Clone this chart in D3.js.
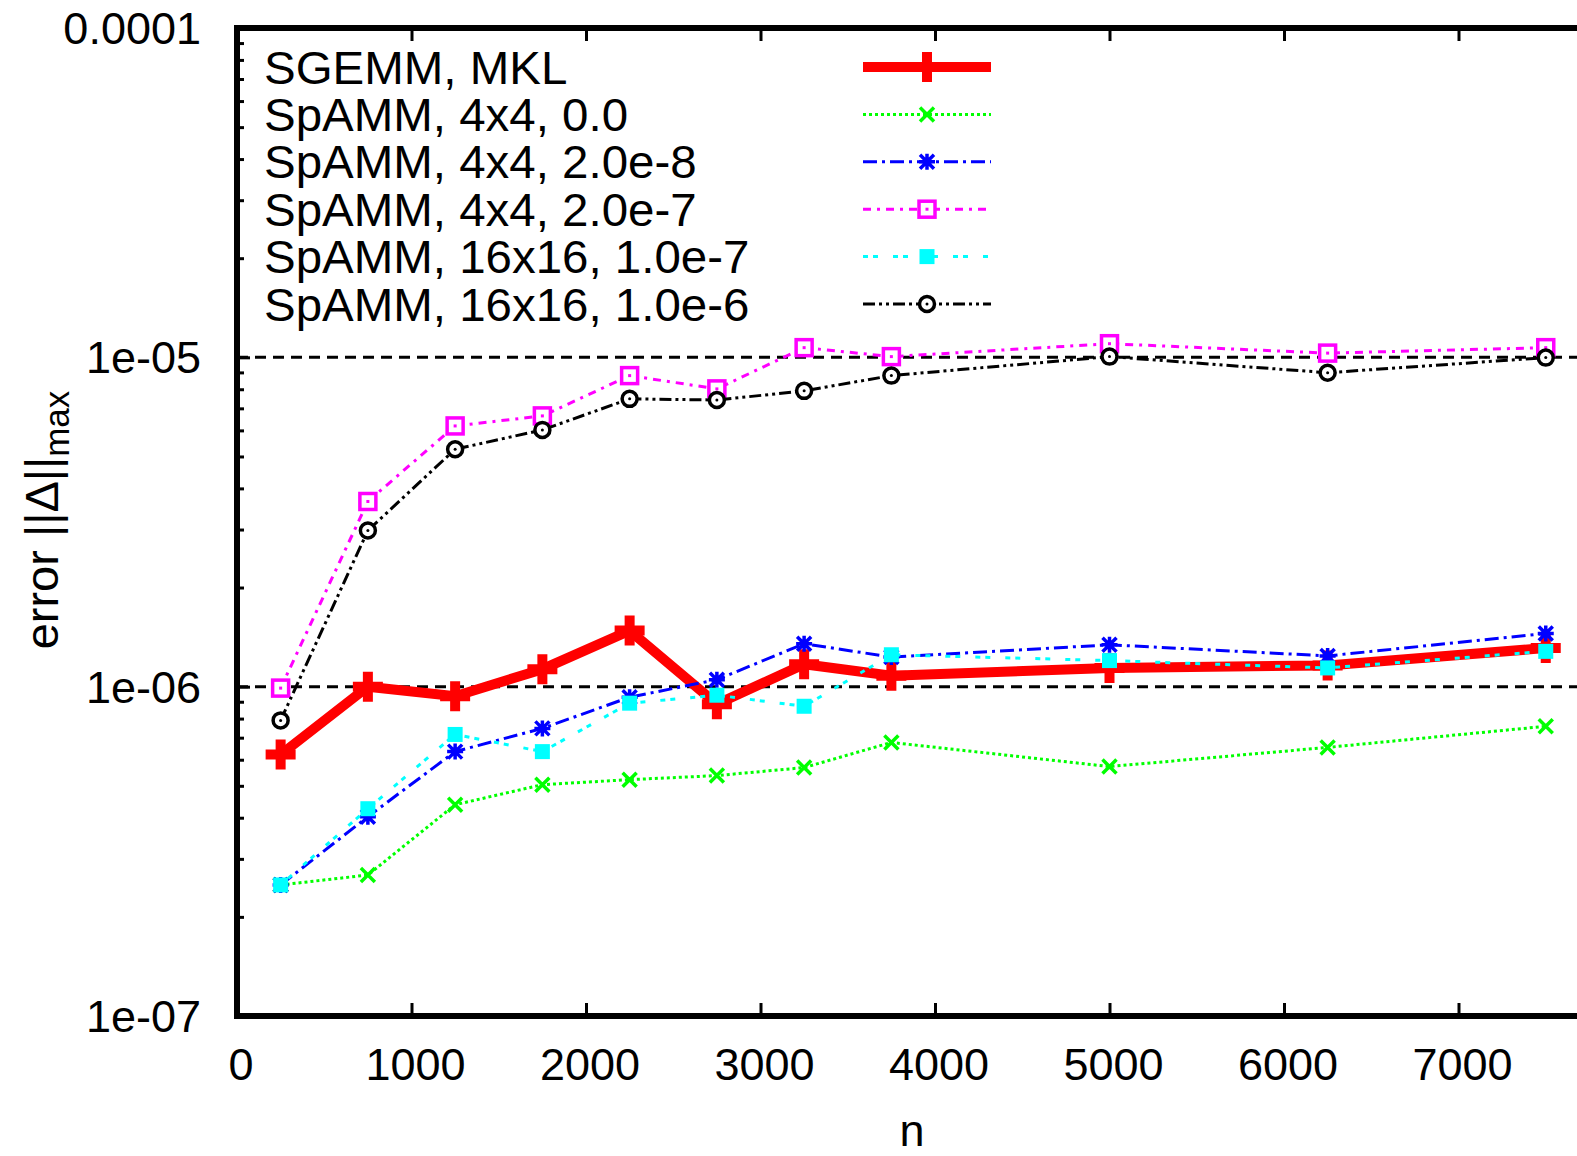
<!DOCTYPE html>
<html><head><meta charset="utf-8">
<script src="https://cdn.jsdelivr.net/npm/d3@7"></script>
<style>
html,body{margin:0;padding:0;background:#fff;overflow:hidden}
text{font-family:"Liberation Sans",Arial,Helvetica,sans-serif;fill:#000}
</style></head>
<body>
<script>
const nValues = [250, 750, 1250, 1750, 2250, 2750, 3250, 3750, 5000, 6250, 7500];
const seriesNames = ["SGEMM, MKL","SpAMM, 4x4, 0.0","SpAMM, 4x4, 2.0e-8","SpAMM, 4x4, 2.0e-7","SpAMM, 16x16, 1.0e-7","SpAMM, 16x16, 1.0e-6"];
const sgemm   = [6.22e-7, 1.00e-6, 9.35e-7, 1.13e-6, 1.48e-6, 8.85e-7, 1.17e-6, 1.08e-6, 1.14e-6, 1.16e-6, 1.31e-6];
const spamm0  = [2.50e-7, 2.68e-7, 4.38e-7, 5.04e-7, 5.22e-7, 5.37e-7, 5.68e-7, 6.77e-7, 5.72e-7, 6.54e-7, 7.58e-7];
const spamm2e8= [2.50e-7, 4.03e-7, 6.35e-7, 7.47e-7, 9.29e-7, 1.05e-6, 1.35e-6, 1.23e-6, 1.34e-6, 1.24e-6, 1.45e-6];
const spamm2e7= [9.9e-7, 3.65e-6, 6.19e-6, 6.64e-6, 8.80e-6, 8.02e-6, 1.07e-5, 1.005e-5, 1.10e-5, 1.03e-5, 1.07e-5];
const spamm16_1e7 = [2.50e-7, 4.26e-7, 7.16e-7, 6.35e-7, 8.91e-7, 9.42e-7, 8.72e-7, 1.25e-6, 1.20e-6, 1.14e-6, 1.28e-6];
const spamm16_1e6 = [7.9e-7, 2.98e-6, 5.26e-6, 6.02e-6, 7.48e-6, 7.42e-6, 7.91e-6, 8.80e-6, 1.005e-5, 8.98e-6, 9.98e-6];
const xTicks = [0,1000,2000,3000,4000,5000,6000,7000];
const yTicks = [1e-4,1e-5,1e-6,1e-7];
const yTickLabels = ["0.0001","1e-05","1e-06","1e-07"];
const refLines = [1e-5, 1e-6];

const W=1577,H=1156;
const svg=d3.select("body").append("svg").attr("width",W).attr("height",H);
const mLeft=237, mTop=28, mBottom=1016;
const x=d3.scaleLinear().domain([0,8000]).range([mLeft,mLeft+8000*0.1745]);
const y=d3.scaleLog().domain([1e-7,1e-4]).range([mBottom,mTop]);
const mRight=x(8000);

svg.append("defs").append("clipPath").attr("id","clip").append("rect")
  .attr("x",mLeft).attr("y",mTop).attr("width",mRight-mLeft).attr("height",mBottom-mTop);

// reference dashed lines
svg.append("g").selectAll("line").data(refLines).join("line")
  .attr("x1",mLeft).attr("x2",mRight).attr("y1",d=>y(d)).attr("y2",d=>y(d))
  .attr("stroke","#000").attr("stroke-width",3).attr("stroke-dasharray","11,7");

// ticks
const minor=[];
for(let e=-7;e<-4;e++) for(let m=2;m<=9;m++) minor.push(m*Math.pow(10,e));
function styleAxis(g){ g.select(".domain").remove(); g.selectAll("line").attr("stroke","#000").attr("stroke-width",3); }
styleAxis(svg.append("g").attr("transform",`translate(${mLeft},0)`).call(d3.axisRight(y).tickValues(yTicks).tickFormat("").tickSize(13).tickSizeOuter(0)));
styleAxis(svg.append("g").attr("transform",`translate(${mLeft},0)`).call(d3.axisRight(y).tickValues(minor).tickFormat("").tickSize(7).tickSizeOuter(0)));
styleAxis(svg.append("g").attr("transform",`translate(${mRight},0)`).call(d3.axisLeft(y).tickValues(yTicks).tickFormat("").tickSize(13).tickSizeOuter(0)));
styleAxis(svg.append("g").attr("transform",`translate(0,${mBottom})`).call(d3.axisTop(x).tickValues(xTicks.slice(1)).tickFormat("").tickSize(13).tickSizeOuter(0)));
styleAxis(svg.append("g").attr("transform",`translate(0,${mTop})`).call(d3.axisBottom(x).tickValues(xTicks.slice(1)).tickFormat("").tickSize(13).tickSizeOuter(0)));

// border
svg.append("rect").attr("x",mLeft).attr("y",mTop).attr("width",mRight-mLeft).attr("height",mBottom-mTop)
  .attr("fill","none").attr("stroke","#000").attr("stroke-width",6);

// tick labels
svg.append("g").selectAll("text").data(xTicks).join("text")
  .attr("x",d=>x(d)+4).attr("y",1080).attr("text-anchor","middle").attr("font-size",45).text(d=>d);
svg.append("g").selectAll("text").data(yTicks).join("text")
  .attr("x",201).attr("y",d=>y(d)+16).attr("text-anchor","end").attr("font-size",45).text((d,i)=>yTickLabels[i]);

// axis titles
svg.append("text").attr("x",912).attr("y",1146).attr("text-anchor","middle").attr("font-size",45).text("n");
const yl=svg.append("text").attr("transform","translate(58,520) rotate(-90)").attr("text-anchor","middle").attr("font-size",47);
yl.append("tspan").text("error ||Δ||");
yl.append("tspan").attr("font-size",35).attr("dy",11).text("max");

// series styles
const series=[
 {name:seriesNames[0],vals:sgemm,color:"#ff0000",w:10,dash:null,marker:"plus"},
 {name:seriesNames[1],vals:spamm0,color:"#00ff00",w:3,dash:"3,3",marker:"x"},
 {name:seriesNames[2],vals:spamm2e8,color:"#0000ff",w:3,dash:"14,5,3,5",marker:"star"},
 {name:seriesNames[3],vals:spamm2e7,color:"#ff00ff",w:3,dash:"8,6,3,6",marker:"opensq"},
 {name:seriesNames[4],vals:spamm16_1e7,color:"#00ffff",w:3,dash:"5,5,5,15",marker:"fillsq"},
 {name:seriesNames[5],vals:spamm16_1e6,color:"#000000",w:3,dash:"12,4,3,4,3,4",marker:"circle"}
];

function drawMarker(g,type,cx,cy,color){
  if(type==="plus"){
    g.append("path").attr("d",`M${cx-15},${cy}H${cx+15}M${cx},${cy-15}V${cy+15}`).attr("stroke",color).attr("stroke-width",10).attr("fill","none");
  } else if(type==="x"){
    const s=7;
    g.append("path").attr("d",`M${cx-s},${cy-s}L${cx+s},${cy+s}M${cx-s},${cy+s}L${cx+s},${cy-s}`).attr("stroke",color).attr("stroke-width",3.5).attr("fill","none");
  } else if(type==="star"){
    const s=7;
    g.append("path").attr("d",`M${cx-s},${cy-s}L${cx+s},${cy+s}M${cx-s},${cy+s}L${cx+s},${cy-s}M${cx-s-1},${cy}H${cx+s+1}M${cx},${cy-s-1}V${cy+s+1}`).attr("stroke",color).attr("stroke-width",3.5).attr("fill","none");
  } else if(type==="opensq"){
    g.append("rect").attr("x",cx-8).attr("y",cy-8).attr("width",16).attr("height",16).attr("fill","#fff").attr("stroke",color).attr("stroke-width",3.5);
    g.append("rect").attr("x",cx-1.5).attr("y",cy-1.5).attr("width",3).attr("height",3).attr("fill",color);
  } else if(type==="fillsq"){
    g.append("rect").attr("x",cx-7.5).attr("y",cy-7.5).attr("width",15).attr("height",15).attr("fill",color);
  } else if(type==="circle"){
    g.append("circle").attr("cx",cx).attr("cy",cy).attr("r",7.5).attr("fill","#fff").attr("stroke",color).attr("stroke-width",3.5);
    g.append("circle").attr("cx",cx).attr("cy",cy).attr("r",1.5).attr("fill",color);
  }
}

const plotG=svg.append("g").attr("clip-path","url(#clip)");
const line=d3.line().x((d,i)=>x(nValues[i])).y(d=>y(d));
series.forEach(s=>{
  const g=plotG.append("g");
  g.append("path").attr("d",line(s.vals)).attr("fill","none").attr("stroke",s.color)
   .attr("stroke-width",s.w).attr("stroke-dasharray",s.dash).attr("stroke-linejoin","miter");
  s.vals.forEach((v,i)=>drawMarker(g,s.marker,x(nValues[i]),y(v),s.color));
});

// legend
const lg=svg.append("g");
series.forEach((s,i)=>{
  const ly=67+i*47.4;
  lg.append("text").attr("transform",`translate(264,${ly+16.5}) scale(1.055,1.03)`).attr("font-size",45).text(s.name);
  lg.append("line").attr("x1",863).attr("x2",991).attr("y1",ly).attr("y2",ly)
    .attr("stroke",s.color).attr("stroke-width",s.w).attr("stroke-dasharray",s.dash);
  drawMarker(lg,s.marker,927,ly,s.color);
});
</script>
</body></html>
